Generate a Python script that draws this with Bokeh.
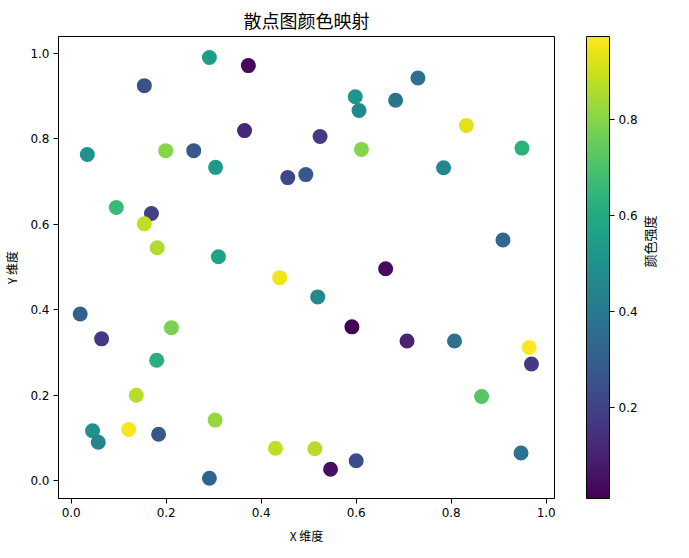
import numpy as np
from bokeh.plotting import figure
from bokeh.models import (ColumnDataSource, LinearColorMapper, ColorBar, FixedTicker,
                          Range1d, LinearAxis, PrintfTickFormatter)
from bokeh.palettes import Viridis256
from bokeh.embed import file_html
from bokeh.resources import INLINE

x_vals = [0.291, 0.373, 0.154, 0.365, 0.034, 0.199, 0.258, 0.304, 0.456, 0.095,
          0.169, 0.154, 0.181, 0.310, 0.439,
          0.730, 0.598, 0.606, 0.683, 0.832, 0.524, 0.611, 0.949, 0.494, 0.784,
          0.909, 0.662,
          0.019, 0.064, 0.211, 0.180, 0.137, 0.045, 0.057, 0.121, 0.184, 0.303,
          0.291, 0.430,
          0.519, 0.591, 0.707, 0.807, 0.964, 0.969, 0.864, 0.513, 0.546, 0.600,
          0.947]
y_vals = [0.990, 0.971, 0.924, 0.819, 0.763, 0.772, 0.772, 0.733, 0.709, 0.639,
          0.625, 0.601, 0.545, 0.524, 0.475,
          0.942, 0.898, 0.866, 0.890, 0.831, 0.805, 0.775, 0.778, 0.716, 0.732,
          0.563, 0.496,
          0.390, 0.332, 0.358, 0.282, 0.200, 0.117, 0.090, 0.120, 0.109, 0.142,
          0.006, 0.076,
          0.430, 0.360, 0.327, 0.327, 0.312, 0.273, 0.197, 0.075, 0.027, 0.047,
          0.065]
c_vals = [0.55, 0.03, 0.25, 0.12, 0.50, 0.80, 0.28, 0.53, 0.22, 0.66,
          0.20, 0.88, 0.86, 0.57, 0.95,
          0.36, 0.52, 0.46, 0.38, 0.93, 0.18, 0.80, 0.63, 0.27, 0.46,
          0.34, 0.04,
          0.31, 0.17, 0.78, 0.62, 0.87, 0.50, 0.45, 0.96, 0.27, 0.82,
          0.32, 0.88,
          0.47, 0.009, 0.10, 0.37, 0.974, 0.17, 0.72, 0.87, 0.05, 0.24,
          0.38]

title_text = "散点图颜色映射"
x_label = "X 维度"
y_label = "Y 维度"
cbar_label = "颜色强度"
axis_ticks = [0.0, 0.2, 0.4, 0.6, 0.8, 1.0]
cbar_ticks = [0.2, 0.4, 0.6, 0.8]

src = ColumnDataSource(dict(x=x_vals, y=y_vals, c=c_vals))
mapper = LinearColorMapper(palette=Viridis256, low=min(c_vals), high=max(c_vals))

p = figure(width=673, height=542, output_backend="svg", toolbar_location=None,
           x_range=Range1d(-0.0267, 1.0175), y_range=Range1d(-0.0414, 1.039),
           min_border_left=51, min_border_right=10, min_border_top=28,
           min_border_bottom=52)
p.frame_width = 496
p.frame_height = 462
p.background_fill_color = "white"
p.border_fill_color = "white"
p.grid.visible = False
p.outline_line_color = "black"
p.outline_line_width = 1

p.scatter("x", "y", source=src, size=15, line_color=None,
          fill_color={"field": "c", "transform": mapper})

p.title.text = title_text
p.title.align = "center"
p.title.text_font = "Noto Sans CJK SC"
p.title.text_font_size = "18px"
p.title.text_font_style = "normal"
p.title.text_color = "black"
p.title.standoff = 8

for ax, lab in ((p.xaxis[0], x_label), (p.yaxis[0], y_label)):
    ax.ticker = FixedTicker(ticks=axis_ticks)
    ax.formatter = PrintfTickFormatter(format="%.1f")
    ax.axis_label = lab
    ax.axis_label_text_font = "Noto Sans CJK SC"
    ax.axis_label_text_font_size = "12px"
    ax.axis_label_text_font_style = "normal"
    ax.axis_label_text_color = "black"
    ax.major_label_text_font = "DejaVu Sans"
    ax.major_label_text_font_size = "12px"
    ax.major_label_text_color = "black"
    ax.major_tick_out = 5
    ax.major_tick_in = 0
    ax.minor_tick_line_color = None
    ax.axis_line_color = "black"
    ax.major_tick_line_color = "black"
    ax.major_label_standoff = 4
p.xaxis[0].axis_label_standoff = 7
p.yaxis[0].axis_label_standoff = 7

cbar = ColorBar(color_mapper=mapper, ticker=FixedTicker(ticks=cbar_ticks),
                formatter=PrintfTickFormatter(format="%.1f"),
                width=23, height=462, padding=0, margin=0,
                location=(528, 0),
                major_tick_out=5, major_tick_in=0,
                major_tick_line_color="black", bar_line_color="black",
                minor_tick_line_color=None,
                major_label_text_font="DejaVu Sans",
                major_label_text_font_size="12px",
                major_label_text_color="black",
                label_standoff=4,
                background_fill_color=None, border_line_color=None)
p.add_layout(cbar, "center")

rax = LinearAxis(ticker=FixedTicker(ticks=[]), axis_label=cbar_label,
                 axis_line_color=None, major_tick_line_color=None,
                 minor_tick_line_color=None, major_label_text_font_size="0px",
                 axis_label_text_font="Noto Sans CJK SC",
                 axis_label_text_font_size="13px",
                 axis_label_text_font_style="normal",
                 axis_label_text_color="black",
                 axis_label_standoff=95,
                 axis_label_orientation=np.pi / 2)
p.add_layout(rax, "right")

open("out.html", "w").write(file_html(p, INLINE))
